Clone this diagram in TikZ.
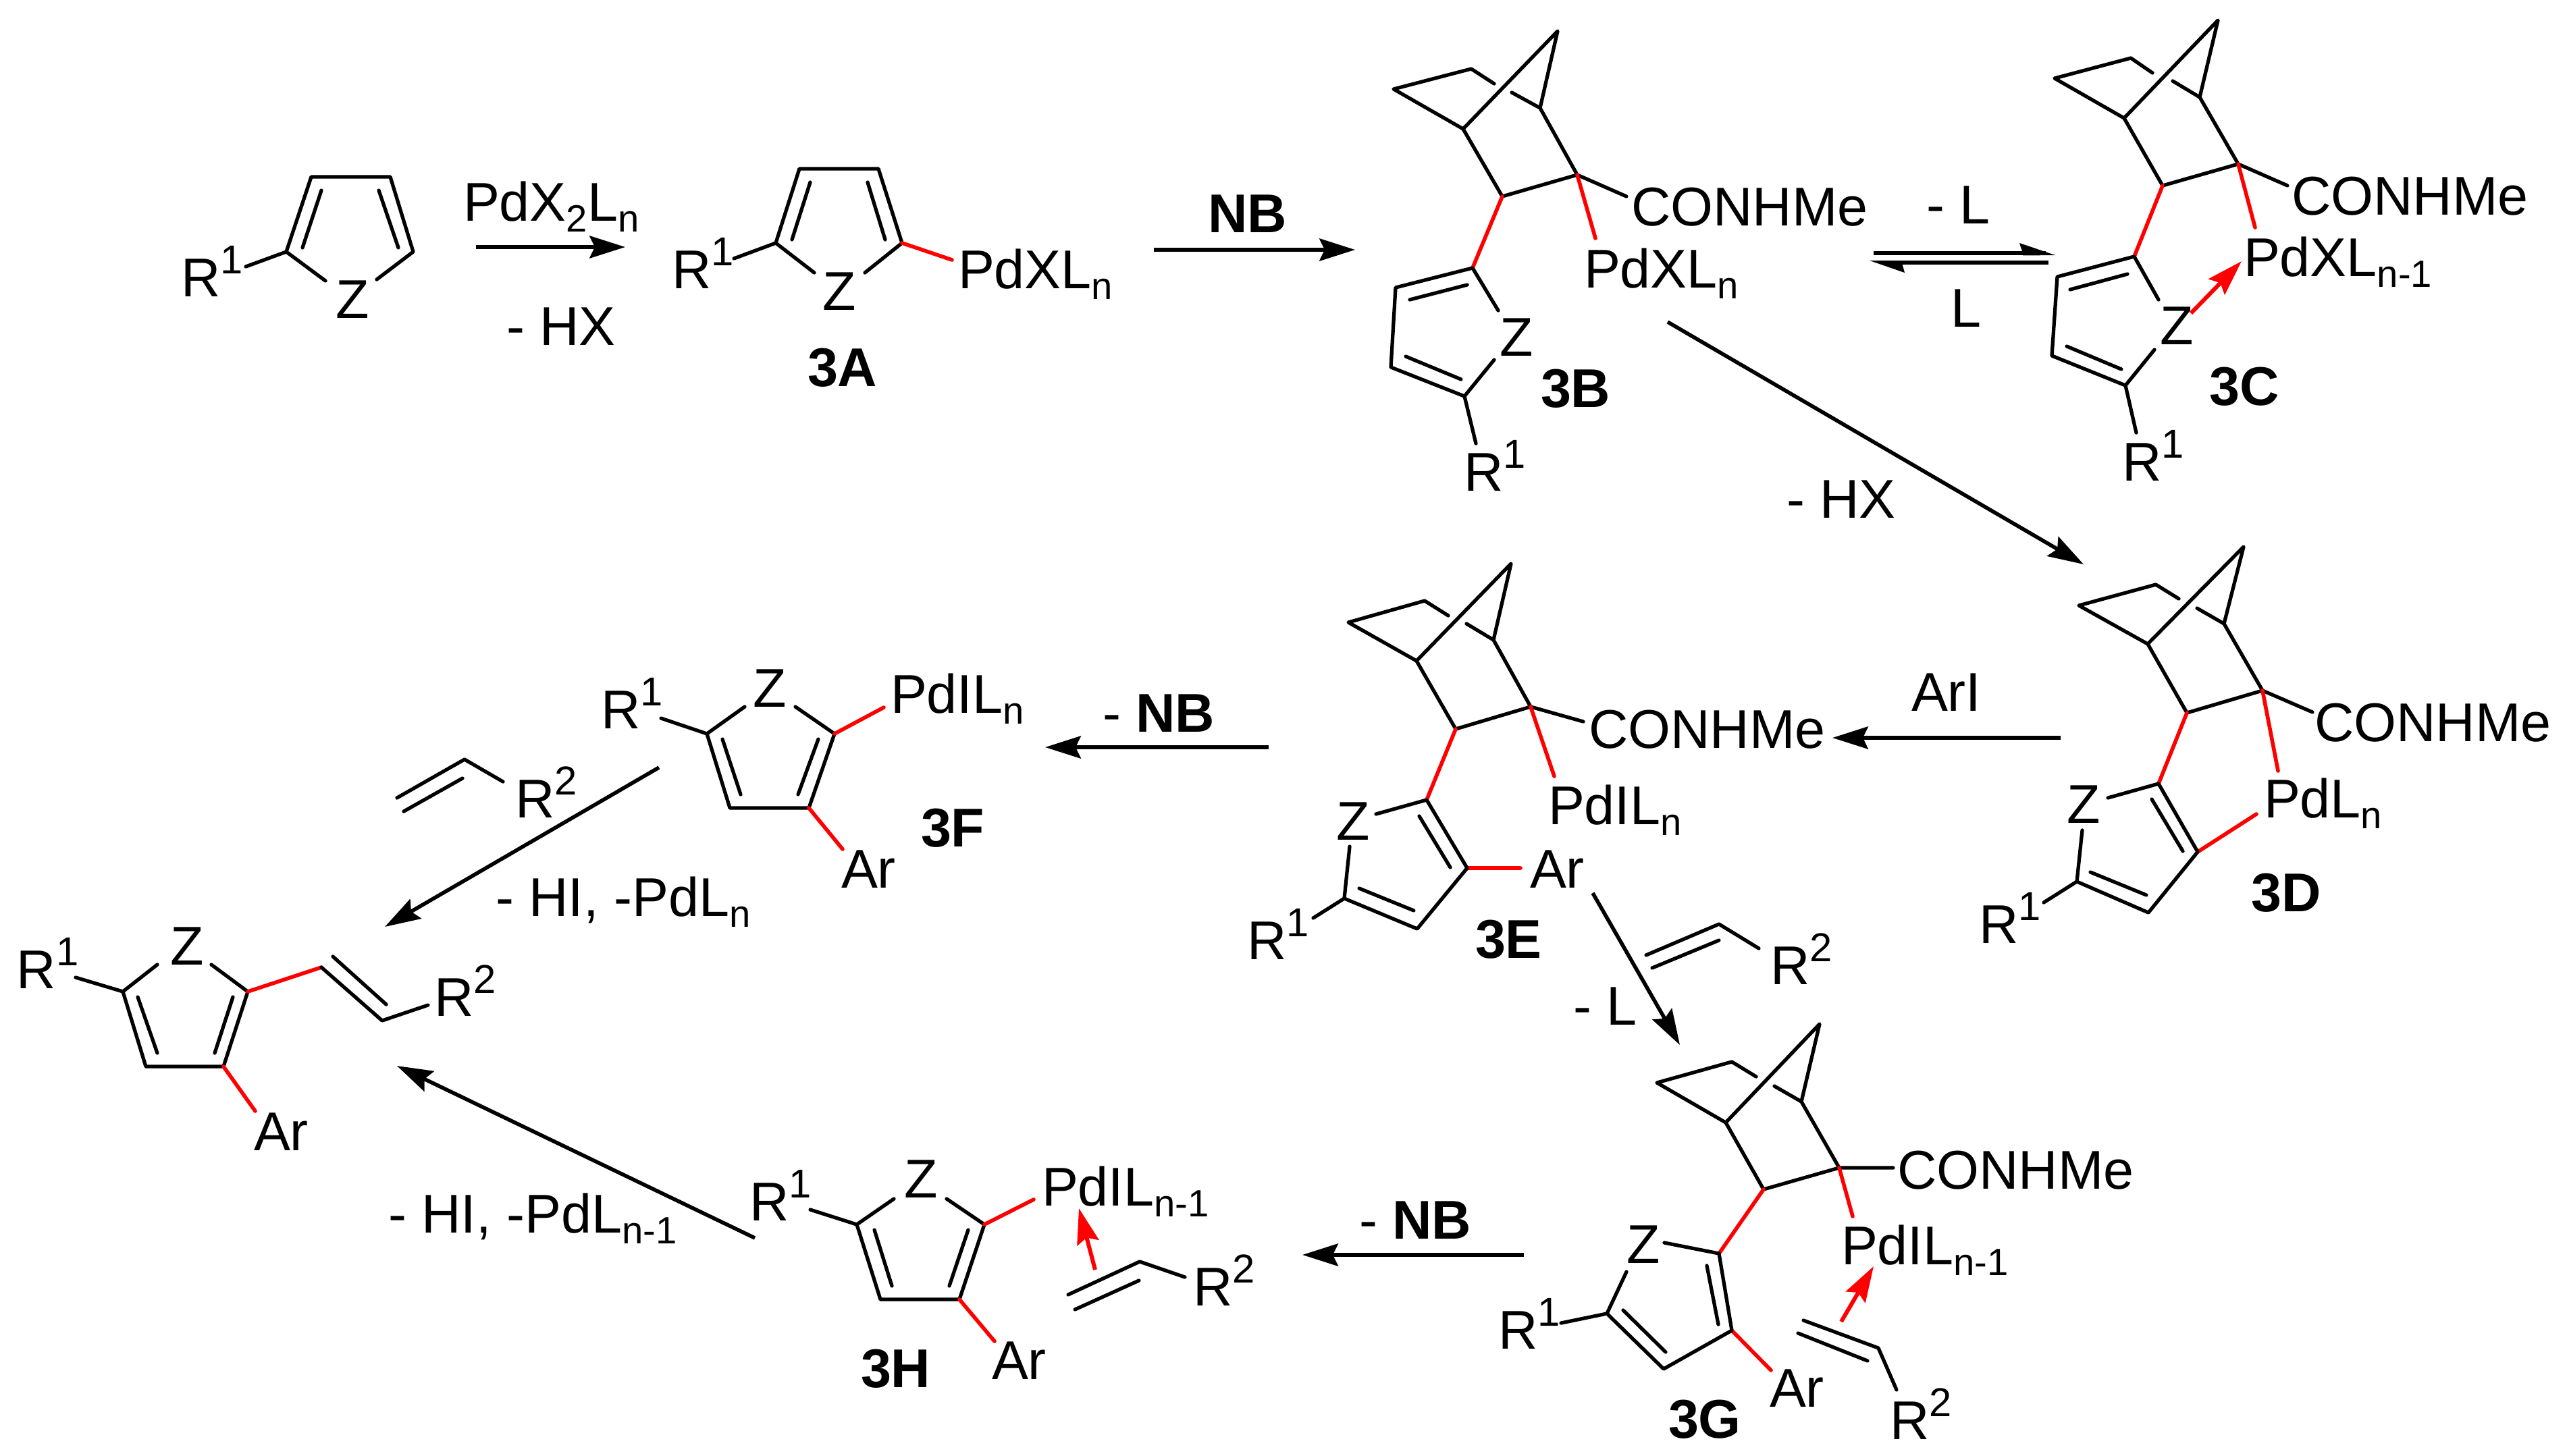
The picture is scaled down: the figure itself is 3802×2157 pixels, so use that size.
\documentclass[tikz,border=0pt]{standalone}
\usepackage{fontspec}
\setmainfont{Liberation Sans}
\usetikzlibrary{arrows.meta}
\definecolor{bondred}{RGB}{255,0,0}
\newcommand{\Sb}[1]{\raisebox{-4.8pt}{\fontsize{16}{16}\selectfont #1}}
\newcommand{\Sp}[1]{\raisebox{9.4pt}{\fontsize{17}{17}\selectfont #1}}
\newcommand{\lab}[4]{\node[txt] (#1) at (#2,#3) {#4};}
\newcommand{\labn}[4]{\node[txt,xshift=0.05cm] (#1) at (#2,#3) {#4};}
\newcommand{\cmp}[4]{\node[txt,xshift=0.05cm,font=\fontsize{23}{27}\selectfont\bfseries] (#1) at (#2,#3) {#4};}
\newcommand{\rxn}[6]{\coordinate (#1s) at (#2,#3);\coordinate (#1e) at (#4,#5);\draw[#6] (#1s) -- (#1e);}
\tikzset{
  txt/.style={anchor=base west,inner sep=0pt,outer sep=0pt,xshift=-0.05cm,font=\fontsize{23}{27}\selectfont},
  bond/.style={line width=1.5pt,line join=round,line cap=round,black},
  redb/.style={line width=1.6pt,line cap=round,bondred},
  arw/.style={line width=1.6pt,-{Stealth[length=15pt,width=9.4pt,inset=2.2pt]},black},
  redarw/.style={line width=1.7pt,-{Stealth[length=15pt,width=9.4pt,inset=2.2pt]},bondred}
}
\begin{document}
\begin{tikzpicture}[x=0.01cm,y=-0.01cm]
\useasboundingbox (0,0) rectangle (3802,2157);
\fill[white] (0,0) rectangle (3802,2157);
% starting heterocycle
\draw[bond] (482,416)--(424,373)--(461,262)--(578,262)--(612,373)--(558,414);
\draw[bond] (448,367)--(476,282) (590,367)--(561,282) (364,395)--(424,373);
\lab{sR}{273}{439}{R\Sp{1}} \labn{sZ}{497}{471}{Z}
\rxn{a1}{705}{366}{926}{366}{arw}
\lab{t1}{691}{327}{PdX\Sb{2}L\Sb{n}} \lab{t2}{755}{511}{- HX}
% 3A
\draw[bond] (1206,404)--(1149,360)--(1184,250)--(1301,250)--(1336,360)--(1281,404);
\draw[bond] (1173,355)--(1200,270) (1311,355)--(1285,270) (1087,383)--(1149,360);
\draw[redb] (1336,360)--(1410,385);
\lab{aR}{1000}{427}{R\Sp{1}} \labn{aZ}{1218}{459}{Z} \lab{aP}{1424}{427}{PdXL\Sb{n}}
\cmp{aL}{1196}{572}{3A}
\rxn{a2}{1709}{370}{2007}{370}{arw}
\node[txt,font=\fontsize{23}{27}\selectfont\bfseries] (t3) at (1794,344) {NB};
% 3B
\draw[bond] (2213,124)--(2179,102)--(2064,132)--(2167,191)--(2307,46)--(2281,160)--(2239,137);
\draw[bond] (2167,191)--(2225,291)--(2336,259)--(2281,160) (2336,259)--(2409,291);
\draw[redb] (2336,259)--(2363,353) (2225,291)--(2181,397);
\draw[bond] (2219,460)--(2181,397)--(2067,426)--(2060,544)--(2169,587)--(2213,533);
\draw[bond] (2088,444)--(2173,422) (2082,528)--(2164,562) (2169,587)--(2186,657);
\lab{bC}{2421}{334}{CONHMe} \lab{bP}{2351}{426}{PdXL\Sb{n}} \labn{bZ}{2221}{527}{Z}
\lab{bR}{2173}{727}{R\Sp{1}} \cmp{bL}{2282}{603}{3B}
% equilibrium
\coordinate (e1a) at (2775,375); \coordinate (e1b) at (3030,375);
\coordinate (e2a) at (3034,389); \coordinate (e2b) at (2790,389);
\draw[line width=1.7pt] (e1a)--(e1b) (e2a)--(e2b);
\fill (3044,378)--(2991,360)--(2997,378.5)--cycle;
\fill (2769,386)--(2821,404)--(2816,386)--cycle;
\lab{t4}{2858}{331}{- L} \lab{t5}{2894}{484}{L}
% 3C
\draw[bond] (3188,108)--(3156,86)--(3043,116)--(3146,175)--(3285,30)--(3258,144)--(3218,120);
\draw[bond] (3146,175)--(3203,275)--(3315,243)--(3258,144) (3315,243)--(3388,275);
\draw[redb] (3315,243)--(3340,337) (3203,275)--(3161,380);
\draw[bond] (3197,444)--(3161,380)--(3047,410)--(3039,527)--(3148,571)--(3191,518);
\draw[bond] (3066,429)--(3151,406) (3061,513)--(3142,547) (3148,571)--(3164,641);
\lab{cC}{3399}{318}{CONHMe} \lab{cP}{3328}{409}{PdXL\Sb{n-1}} \labn{cZ}{3199}{510}{Z}
\lab{cR}{3148}{712}{R\Sp{1}} \cmp{cL}{3272}{600}{3C}
\rxn{r1}{3245}{464}{3320}{387}{redarw}
% 3B to 3D
\rxn{a3}{2470}{477}{3086}{836}{arw}
\lab{t6}{2651}{767}{- HX}
% 3D
\draw[bond] (3227,887)--(3193,866)--(3079,897)--(3181,954)--(3323,810)--(3294,924)--(3254,901);
\draw[bond] (3181,954)--(3239,1056)--(3351,1023)--(3294,924) (3351,1023)--(3425,1055);
\draw[redb] (3351,1023)--(3374,1142) (3239,1056)--(3197,1161) (3255,1262)--(3342,1206);
\draw[bond] (3122,1182)--(3197,1161)--(3255,1262)--(3182,1352)--(3076,1306)--(3084,1230);
\draw[bond] (3187,1184)--(3233,1261) (3096,1292)--(3179,1326) (3076,1306)--(3027,1337);
\lab{dC}{3433}{1098}{CONHMe} \lab{dP}{3358}{1211}{PdL\Sb{n}} \labn{dZ}{3061}{1219}{Z}
\lab{dR}{2936}{1397}{R\Sp{1}} \cmp{dL}{3334}{1350}{3D}
\rxn{a4}{3052}{1093}{2714}{1093}{arw}
\labn{t7}{2831}{1053}{ArI}
% 3E
\draw[bond] (2145,912)--(2110,890)--(1997,922)--(2098,979)--(2238,835)--(2212,948)--(2172,924);
\draw[bond] (2098,979)--(2156,1080)--(2267,1047)--(2212,948) (2267,1047)--(2345,1069);
\draw[redb] (2267,1047)--(2302,1150) (2156,1080)--(2113,1185) (2173,1286)--(2252,1286);
\draw[bond] (2038,1206)--(2113,1185)--(2173,1286)--(2099,1376)--(1991,1331)--(1999,1254);
\draw[bond] (2102,1209)--(2148,1285) (2013,1316)--(2094,1349) (1991,1331)--(1945,1360);
\lab{eC}{2358}{1108}{CONHMe} \lab{eP}{2298}{1221}{PdIL\Sb{n}} \labn{eZ}{1979}{1244}{Z}
\labn{eA}{2266}{1315}{Ar} \lab{eR}{1852}{1421}{R\Sp{1}} \cmp{eL}{2185}{1419}{3E}
\rxn{a5}{1879}{1107}{1548}{1107}{arw}
\node[txt] (t8) at (1638,1084) {- \textbf{NB}};
% E to G
\rxn{a6}{2359}{1323}{2488}{1548}{arw}
\draw[bond] (2438,1415)--(2546,1369)--(2605,1405) (2447,1434)--(2546,1393);
\lab{t9}{2627}{1458}{R\Sp{2}} \lab{t10}{2335}{1518}{- L}
% 3F
\draw[bond] (1103,1047)--(1047,1087)--(1081,1197)--(1198,1197)--(1236,1087)--(1178,1047);
\draw[bond] (1212,1095)--(1182,1177) (1070,1095)--(1097,1177) (1047,1087)--(979,1064);
\draw[redb] (1236,1087)--(1309,1048) (1198,1197)--(1248,1258);
\labn{fZ}{1115}{1047}{Z} \lab{fR}{895}{1079}{R\Sp{1}} \lab{fP}{1324}{1056}{PdIL\Sb{n}}
\labn{fA}{1246}{1315}{Ar} \cmp{fL}{1364}{1254}{3F}
\draw[bond] (588,1182)--(688,1125)--(745,1158) (598,1202)--(685,1153);
\lab{t11}{768}{1211}{R\Sp{2}}
\rxn{a7}{976}{1137}{570}{1373}{arw}
\lab{t12}{739}{1357}{- HI, -PdL\Sb{n}}
% product
\draw[bond] (233,1429)--(182,1469)--(216,1580)--(331,1580)--(367,1469)--(313,1429);
\draw[bond] (204,1477)--(233,1560) (345,1477)--(318,1560) (182,1469)--(112,1448);
\draw[redb] (367,1469)--(476,1433) (331,1580)--(378,1646);
\draw[bond] (476,1433)--(566,1512)--(634,1489) (493,1417)--(572,1488);
\labn{pZ}{252}{1429}{Z} \lab{pR}{30}{1464}{R\Sp{1}} \lab{pS}{648}{1505}{R\Sp{2}} \labn{pA}{376}{1704}{Ar}
\rxn{a8}{1118}{1834}{588}{1579}{arw}
\lab{t13}{580}{1826}{- HI, -PdL\Sb{n-1}}
% 3H
\draw[bond] (1324,1776)--(1269,1814)--(1304,1925)--(1421,1925)--(1458,1814)--(1402,1776);
\draw[bond] (1295,1822)--(1321,1905) (1434,1822)--(1406,1905) (1269,1814)--(1200,1792);
\draw[redb] (1458,1814)--(1531,1777) (1421,1925)--(1473,1987);
\labn{hZ}{1339}{1774}{Z} \lab{hR}{1115}{1808}{R\Sp{1}} \lab{hP}{1548}{1786}{PdIL\Sb{n-1}}
\labn{hA}{1469}{2043}{Ar} \cmp{hL}{1275}{2055}{3H}
\draw[bond] (1582,1918)--(1688,1869)--(1755,1892) (1592,1940)--(1687,1897);
\lab{hS}{1772}{1934}{R\Sp{2}}
\rxn{r2}{1622}{1881}{1598}{1790}{redarw}
% 3G
\rxn{a9}{2257}{1859}{1929}{1859}{arw}
\node[txt] (t14) at (2018,1835) {- \textbf{NB}};
\draw[bond] (2601,1595)--(2565,1573)--(2454,1604)--(2556,1663)--(2695,1517)--(2668,1632)--(2628,1609);
\draw[bond] (2556,1663)--(2612,1762)--(2724,1730)--(2668,1632) (2724,1730)--(2804,1730);
\draw[redb] (2724,1730)--(2744,1802) (2612,1762)--(2546,1857) (2565,1971)--(2623,2030);
\draw[bond] (2465,1841)--(2546,1857)--(2565,1971)--(2464,2028)--(2380,1946)--(2409,1884);
\draw[bond] (2528,1875)--(2545,1962) (2404,1941)--(2467,2003) (2380,1946)--(2312,1960);
\lab{gC}{2815}{1761}{CONHMe} \lab{gP}{2732}{1873}{PdIL\Sb{n-1}} \labn{gZ}{2409}{1871}{Z}
\labn{gA}{2621}{2084}{Ar} \lab{gR}{2224}{1998}{R\Sp{1}} \cmp{gL}{2471}{2130}{3G}
\draw[bond] (2663,1975)--(2766,2016) (2671,1956)--(2782,1997)--(2809,2059);
\lab{gS}{2804}{2132}{R\Sp{2}}
\rxn{r3}{2727}{1958}{2775}{1876}{redarw}
\end{tikzpicture}
\end{document}
